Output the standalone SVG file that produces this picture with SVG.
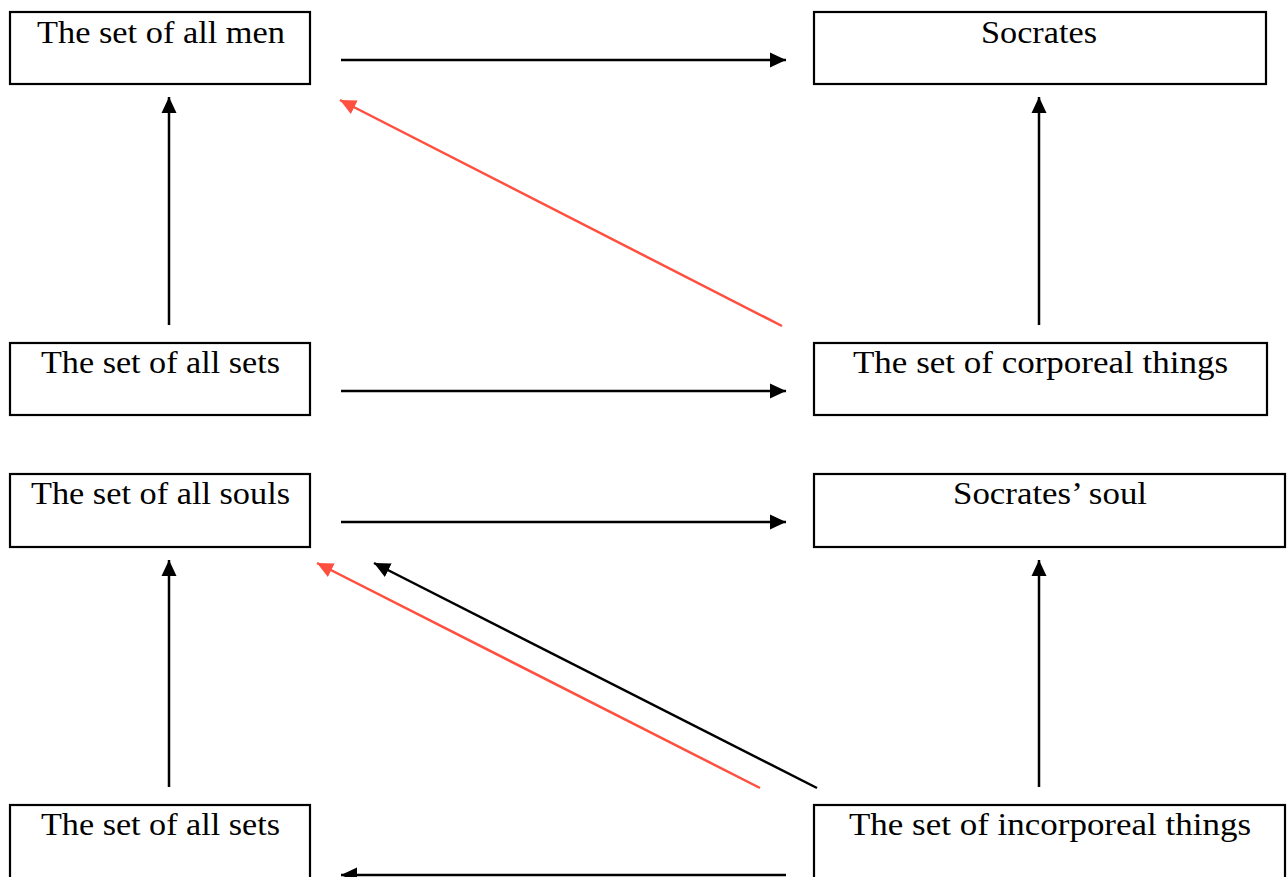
<svg xmlns="http://www.w3.org/2000/svg" width="1287" height="877" viewBox="0 0 1287 877">
<style>
.box{fill:#fff;stroke:#000;stroke-width:2.2}
.lbl{font-family:"Liberation Serif","DejaVu Serif",serif;font-size:32px;fill:#000}
.k{stroke:#000;stroke-width:2.5;fill:none}
.r{stroke:#ff4f3f;stroke-width:2.5;fill:none}
</style>
<defs>
<marker id="ak" markerUnits="userSpaceOnUse" markerWidth="18" markerHeight="16" refX="16" refY="8" orient="auto"><path d="M0,0.5 L16,8 L0,15.5 Z" fill="#000"/></marker>
<marker id="ar" markerUnits="userSpaceOnUse" markerWidth="18" markerHeight="16" refX="16" refY="8" orient="auto"><path d="M0,0.5 L16,8 L0,15.5 Z" fill="#ff4f3f"/></marker>
</defs>
<rect width="1287" height="877" fill="#fff"/>
<g id="men"><rect class="box" x="10" y="12" width="300" height="72"/><text class="lbl" x="37" y="43" textLength="248" lengthAdjust="spacingAndGlyphs">The set of all men</text></g>
<g id="socrates"><rect class="box" x="814" y="12" width="452" height="72"/><text class="lbl" x="981" y="43" textLength="116" lengthAdjust="spacingAndGlyphs">Socrates</text></g>
<g id="sets1"><rect class="box" x="10" y="343" width="300" height="72"/><text class="lbl" x="41" y="373" textLength="239" lengthAdjust="spacingAndGlyphs">The set of all sets</text></g>
<g id="corporeal"><rect class="box" x="814" y="343" width="453" height="72"/><text class="lbl" x="853" y="373" textLength="375" lengthAdjust="spacingAndGlyphs">The set of corporeal things</text></g>
<g id="souls"><rect class="box" x="10" y="474" width="300" height="73"/><text class="lbl" x="31" y="504" textLength="259" lengthAdjust="spacingAndGlyphs">The set of all souls</text></g>
<g id="soul"><rect class="box" x="814" y="474" width="471" height="73"/><text class="lbl" x="953" y="504" textLength="194" lengthAdjust="spacingAndGlyphs">Socrates’ soul</text></g>
<g id="sets2"><rect class="box" x="10" y="805" width="300" height="90"/><text class="lbl" x="41" y="835" textLength="239" lengthAdjust="spacingAndGlyphs">The set of all sets</text></g>
<g id="incorporeal"><rect class="box" x="814" y="805" width="471" height="90"/><text class="lbl" x="849" y="835" textLength="402" lengthAdjust="spacingAndGlyphs">The set of incorporeal things</text></g>
<g id="connectors">
<line class="k" x1="341" y1="60" x2="786" y2="60" marker-end="url(#ak)"/>
<line class="k" x1="169" y1="325" x2="169" y2="97" marker-end="url(#ak)"/>
<line class="k" x1="1039" y1="325" x2="1039" y2="97" marker-end="url(#ak)"/>
<line class="r" x1="782" y1="326" x2="340" y2="100" marker-end="url(#ar)"/>
<line class="k" x1="341" y1="391" x2="786" y2="391" marker-end="url(#ak)"/>
<line class="k" x1="341" y1="522" x2="786" y2="522" marker-end="url(#ak)"/>
<line class="k" x1="169" y1="787" x2="169" y2="560" marker-end="url(#ak)"/>
<line class="k" x1="1039" y1="787" x2="1039" y2="560" marker-end="url(#ak)"/>
<line class="k" x1="817" y1="788" x2="374" y2="563" marker-end="url(#ak)"/>
<line class="r" x1="760" y1="788" x2="317" y2="563" marker-end="url(#ar)"/>
<line class="k" x1="786" y1="875" x2="341" y2="875" marker-end="url(#ak)"/>
</g>
</svg>
